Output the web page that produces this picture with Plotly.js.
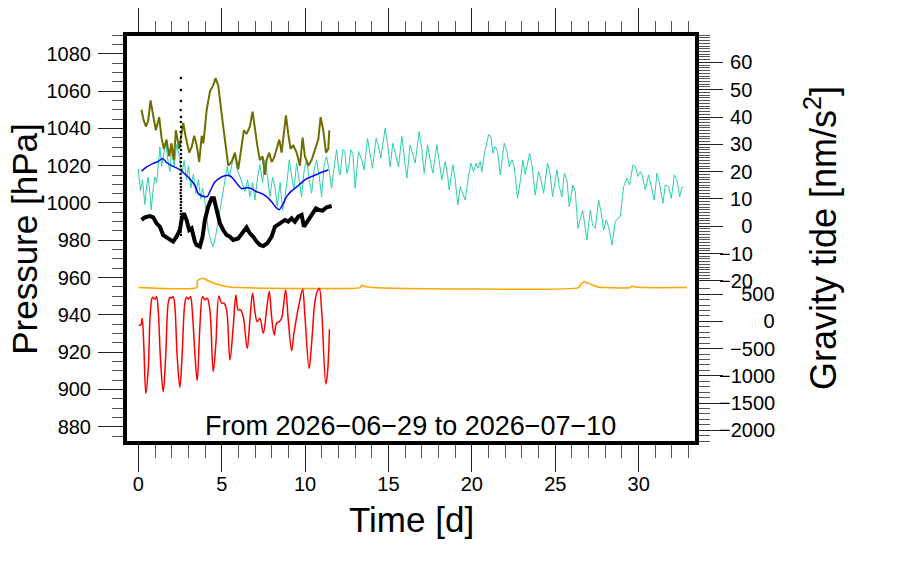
<!DOCTYPE html>
<html>
<head>
<meta charset="utf-8">
<script src="https://cdn.plot.ly/plotly-3.0.1.min.js"></script>
<style>
  html, body { margin: 0; padding: 0; background: #fff; }
  #chart { width: 900px; height: 568px; }
</style>
</head>
<body>
<div id="chart"></div>
<script>
// time in days since 2026-06-29

// gravity tide residual, upper right scale [nm/s^2]
const tideDays = [-0.01, 0.13, 0.25, 0.39, 0.5, 0.59, 0.7, 0.77, 0.9, 0.99, 1.1, 1.2, 1.29, 1.4, 1.5, 1.65, 1.75, 1.89, 2.0, 2.15,
  2.3, 2.45, 2.6, 2.75, 2.89, 3.0, 3.15, 3.3, 3.45, 3.6, 3.75, 3.85, 3.99, 4.19, 4.33, 4.49, 4.63, 4.73, 4.89, 5.05,
  5.19, 5.33, 5.45, 5.65, 5.79, 5.95, 6.09, 6.25, 6.39, 6.55, 6.69, 6.85, 6.99, 7.15, 7.29, 7.45, 7.59, 7.75, 7.89, 8.05,
  8.2, 8.33, 8.5, 8.65, 8.8, 8.93, 9.05, 9.2, 9.33, 9.49, 9.65, 9.79, 9.95, 10.09, 10.25, 10.39, 10.55, 10.69, 10.85, 10.99,
  11.15, 11.29, 11.45, 11.59, 11.75, 11.89, 12.05, 12.1, 12.26, 12.38, 12.5, 12.6, 12.74, 12.86, 13.0, 13.2, 13.4, 13.54, 13.74, 13.9,
  14.04, 14.26, 14.4, 14.54, 14.8, 14.94, 15.1, 15.26, 15.4, 15.6, 15.8, 15.94, 16.1, 16.3, 16.46, 16.6, 16.84, 17.0, 17.14, 17.34,
  17.5, 17.66, 17.9, 18.04, 18.2, 18.4, 18.54, 18.64, 18.86, 19.0, 19.16, 19.3, 19.44, 19.6, 19.8, 19.94, 20.1, 20.26, 20.36, 20.5,
  20.6, 20.74, 21.0, 21.14, 21.26, 21.4, 21.54, 21.7, 21.94, 22.1, 22.24, 22.4, 22.54, 22.74, 22.9, 23.06, 23.2, 23.46, 23.6, 23.8,
  24.0, 24.1, 24.3, 24.54, 24.7, 24.84, 25.1, 25.24, 25.4, 25.54, 25.7, 25.84, 26.06, 26.2, 26.36, 26.5, 26.64, 26.76, 26.9, 27.1,
  27.24, 27.4, 27.6, 27.76, 27.9, 28.06, 28.2, 28.4, 28.6, 28.76, 28.9, 29.1, 29.3, 29.46, 29.66, 29.8, 29.96, 30.1, 30.2, 30.4,
  30.6, 30.74, 30.94, 31.1, 31.24, 31.46, 31.6, 31.8, 31.96, 32.14, 32.3, 32.46, 32.6, 32.7];
const tideValues = [20.9, 13, 17, 8, 15, 18, 12, 6, 14, 18, 16, 24, 29, 22, 26, 31, 25, 20, 28, 22,
  30, 26, 19, 24, 17, 22, 14, 19, 12, 17, 10, 14, 9, -1.4, -5.1, -7.5, -3.8, -0.2, 4.7, 10.8,
  15.7, 21.8, 18, 23.7, 25.5, 20, 18.2, 15, 12.7, 17, 10.8, 16, 9.6, 18, 22.5, 16, 24.3, 18, 10.8, 18,
  14, 7.2, 16, 5.9, 11, 17, 24.3, 18, 13.3, 23.1, 17, 10.8, 21, 24.3, 17, 12.1, 21, 24.3, 18, 10.8,
  23, 25.5, 20, 13.9, 22, 28, 19.4, 18.8, 28.0, 27.4, 19.4, 21.2, 28.0, 26.7, 13.9, 27.4, 24.3, 20.6, 32.2, 26.7,
  21.2, 32.2, 29.2, 24.9, 35.9, 30.4, 21.8, 30.4, 26.7, 21.8, 32.9, 26.7, 17.6, 29.8, 26.7, 23.1, 34.7, 28.0, 19.4, 29.8,
  24.3, 19.4, 29.8, 24.3, 17.0, 23.7, 18.8, 13.3, 22.5, 17.0, 7.8, 14.5, 12.1, 9.6, 18.2, 23.1, 20.0, 23.1, 21.2, 23.7,
  20.0, 26.1, 33.5, 32.9, 26.7, 29.2, 27.4, 18.8, 30.4, 27.4, 21.8, 24.3, 21.8, 10.2, 16.3, 24.3, 18.8, 26.7, 22.5, 11.4,
  20.0, 18.2, 12.1, 23.1, 18.8, 10.8, 20.6, 14.5, 10.8, 19.4, 17.0, 7.2, 15.1, 12.7, -0.8, 2.3, 5.9, 1.0, -5.1, 5.9,
  0.4, -0.8, 9.6, 4.7, -1.4, 2.3, -0.2, -6.9, 1.7, 2.9, 3.5, 14.5, 17.6, 15.1, 22.5, 21.8, 18.2, 20.0, 18.8, 13.3,
  18.8, 15.1, 9.6, 19.4, 16.3, 8.4, 15.1, 14.5, 10.2, 18.8, 17.0, 10.8, 14.3, 14.3];

// pressure series [hPa]
const oliveDays = [0.19, 0.3, 0.45, 0.59, 0.73, 0.85, 0.95, 1.05, 1.25, 1.39, 1.53, 1.69, 1.85, 1.99, 2.13, 2.25, 2.45, 2.69, 2.85, 3.05,
  3.2, 3.35, 3.5, 3.65, 3.8, 3.9, 4.1, 4.3, 4.49, 4.63, 4.79, 4.89, 5.09, 5.25, 5.39, 5.59, 5.79, 5.99, 6.13, 6.33,
  6.49, 6.69, 6.85, 6.99, 7.13, 7.29, 7.45, 7.59, 7.69, 7.85, 7.99, 8.13, 8.29, 8.45, 8.59, 8.73, 8.85, 8.99, 9.13, 9.29,
  9.49, 9.69, 9.85, 9.99, 10.19, 10.39, 10.59, 10.79, 10.93, 11.09, 11.25, 11.39, 11.45];
const olivePressure = [1050, 1045, 1041, 1044, 1055, 1049, 1045, 1039, 1046, 1035, 1029, 1034, 1025, 1032, 1023, 1039, 1029, 1043, 1035, 1027,
  1030, 1036, 1031, 1022, 1036, 1032, 1050, 1060, 1063, 1067, 1063, 1055, 1041, 1030, 1020, 1022, 1027, 1018, 1027, 1039,
  1037, 1041, 1049, 1039, 1031, 1023, 1025, 1015, 1023, 1027, 1022, 1024, 1029, 1034, 1027, 1039, 1047, 1037, 1029, 1031,
  1027, 1020, 1035, 1025, 1020, 1023, 1029, 1034, 1046, 1039, 1027, 1029, 1039];

const blueDays = [0.19, 0.49, 0.89, 1.19, 1.45, 1.69, 1.99, 2.29, 2.59, 2.79, 3.09, 3.39, 3.59, 3.79, 4.13, 4.33, 4.59, 4.89, 5.19, 5.45,
  5.69, 5.99, 6.19, 6.49, 6.79, 7.09, 7.39, 7.69, 7.99, 8.25, 8.45, 8.65, 8.89, 9.19, 9.49, 9.79, 10.09, 10.39, 10.69, 10.99, 11.39];
const bluePressure = [1017.1, 1019.2, 1021.2, 1022.3, 1023.9, 1021.7, 1020.0, 1018.8, 1017.2, 1015.5, 1012.9, 1009.5, 1005.1, 1003.9, 1003.4, 1006.9, 1011.3, 1013.5, 1014.6, 1014.7,
  1013.0, 1009.5, 1007.7, 1008.1, 1007.7, 1006.0, 1005.1, 1003.4, 1000.7, 997.6, 996.4, 999.0, 1003.4, 1006.5, 1008.6, 1010.9, 1013.0, 1014.2, 1015.3, 1016.5, 1017.7];

const blackDays = [0.19, 0.39, 0.69, 0.89, 1.09, 1.29, 1.49, 1.69, 1.89, 2.09, 2.29, 2.49, 2.59, 2.73, 2.89, 3.05, 3.19, 3.29, 3.39, 3.49,
  3.69, 3.85, 3.99, 4.19, 4.39, 4.53, 4.69, 4.89, 5.09, 5.29, 5.49, 5.69, 5.99, 6.29, 6.49, 6.69, 6.89, 7.09, 7.29, 7.49,
  7.73, 7.99, 8.19, 8.49, 8.79, 8.99, 9.19, 9.39, 9.59, 9.79, 9.93, 10.13, 10.39, 10.65, 10.85, 11.05, 11.29, 11.59];
const blackPressure = [990.9, 992.3, 993.0, 992.3, 989.1, 987.3, 982.8, 981.6, 981.0, 979.3, 981.9, 985.5, 990.9, 994.5, 990.9, 985.5, 986.4, 981.9, 979.3, 977.5,
  976.6, 981.9, 990.9, 998.0, 1002.5, 1002.5, 996.2, 989.1, 985.5, 982.8, 981.9, 980.2, 981.0, 984.6, 986.9, 983.7, 981.9, 979.3, 977.5, 976.9,
  978.4, 981.9, 987.3, 989.1, 990.9, 990.0, 991.8, 990.0, 992.7, 993.6, 987.3, 990.0, 993.6, 997.1, 996.2, 995.9, 997.7, 998.4];

// single readings around day 2.5
const dotDays = [2.55, 2.55, 2.56, 2.54, 2.56, 2.55, 2.57, 2.54, 2.56, 2.55, 2.53, 2.56, 2.55, 2.57, 2.54, 2.55, 2.56, 2.53, 2.55, 2.57,
  2.54, 2.56, 2.55, 2.53, 2.56, 2.55, 2.57, 2.54, 2.55, 2.56, 2.54, 2.55, 2.57, 2.53, 2.56, 2.55, 2.54, 2.56];
const dotPressure = [1067.0, 1060.6, 1054.7, 1049.9, 1046.1, 1043.4, 1040.7, 1038.1, 1035.4, 1032.7, 1030.6, 1028.4, 1026.3, 1024.1, 1022.0, 1019.8, 1017.7, 1015.5, 1013.4, 1011.8,
  1010.2, 1008.6, 1007.0, 1005.4, 1003.8, 1002.1, 1000.5, 998.9, 997.3, 995.7, 994.1, 992.5, 990.9, 989.3, 987.7, 986.1, 984.5, 982.8];

// lower right scale [nm/s^2]
const orangeDays = [0.0, 3.5, 3.55, 3.85, 4.1, 4.4, 4.8, 5.2, 5.6, 6.0, 13.3, 13.4, 13.6, 14.0, 26.4, 26.55, 26.75, 27.0, 27.3, 27.6,
  28.0, 29.5, 29.6, 29.8, 30.2, 32.9];
const orangeValues = [622, 622, 750, 795, 760, 720, 680, 645, 628, 622, 622, 665, 640, 625, 622, 690, 730, 700, 660, 630,
  622, 622, 650, 632, 622, 622];

const redDays = [0.03, 0.15, 0.23, 0.33, 0.45, 0.59, 0.73, 0.85, 0.99, 1.09, 1.19, 1.33, 1.49, 1.63, 1.79, 1.89, 1.99, 2.09, 2.19, 2.33,
  2.49, 2.63, 2.79, 2.89, 3.01, 3.13, 3.23, 3.39, 3.53, 3.69, 3.85, 3.99, 4.13, 4.29, 4.49, 4.65, 4.83, 4.99, 5.13, 5.29,
  5.49, 5.69, 5.85, 5.99, 6.13, 6.29, 6.53, 6.69, 6.85, 6.99, 7.13, 7.29, 7.49, 7.69, 7.85, 7.99, 8.15, 8.29, 8.45, 8.59,
  8.83, 8.99, 9.19, 9.33, 9.53, 9.69, 9.85, 9.99, 10.24, 10.39, 10.59, 10.73, 10.85, 10.99, 11.24, 11.34, 11.46];
const redValues = [-65, -65, 57, -464, -1324, -894, 211, 444, 407, 456, 211, -710, -1293, -710, 334, 444, 426, 456, 272, -649,
  -1214, -587, 334, 444, 407, 456, 211, -587, -1091, -96, 456, 395, 426, 211, -925, -403, 469, 334, 334, 211,
  -710, -96, 487, 211, 211, 88, -495, 27, 518, 180, -4, 57, -219, 211, 549, 88, -250, -35, -4, 57,
  579, 27, -538, -219, 149, 395, 591, 88, -864, -403, 364, 549, 610, 211, -1152, -956, -145];

// axis ticks and labels
const timeTicks = [0, 5, 10, 15, 20, 25, 30];
const pressureTicks = [880, 900, 920, 940, 960, 980, 1000, 1020, 1040, 1060, 1080];
const tideTicks = [-20, -10, 0, 10, 20, 30, 40, 50, 60];
const tideLabels = ['\u221220', '\u221210', '\u2007\u20070', '\u200710', '\u200720', '\u200730', '\u200740', '\u200750', '\u200760'];
const gravTicks = [-2000, -1500, -1000, -500, 0, 500];
const gravLabels = ['\u22122000', '\u22121500', '\u22121000', '\u2007\u2212500', '\u2007\u2007\u2007\u20070', '\u2007\u2007500'];

function steps(a, b, s) {
  const out = [];
  for (let v = a; v <= b + 1e-9; v += s) out.push(+v.toFixed(6));
  return out;
}

const FONT = 'Liberation Sans, Arial, sans-serif';
const tickFont = { family: FONT, size: 20, color: '#000' };
const minorStyle = { ticks: 'outside', tickcolor: '#555', tickwidth: 1, showgrid: false };

const traces = [
  { x: tideDays, y: tideValues, yaxis: 'y', type: 'scatter', mode: 'lines',
    line: { color: 'rgb(40,208,172)', width: 1 } },
  { x: oliveDays, y: olivePressure, yaxis: 'y2', type: 'scatter', mode: 'lines',
    line: { color: '#6e6e00', width: 2 } },
  { x: blueDays, y: bluePressure, yaxis: 'y2', type: 'scatter', mode: 'lines',
    line: { color: '#0000ff', width: 1.5, shape: 'spline', smoothing: 0.6 } },
  { x: blackDays, y: blackPressure, yaxis: 'y2', type: 'scatter', mode: 'lines',
    line: { color: '#000', width: 4 } },
  { x: dotDays, y: dotPressure, yaxis: 'y2', type: 'scatter', mode: 'markers',
    marker: { color: '#000', size: 2.5 } },
  { x: orangeDays, y: orangeValues, yaxis: 'y3', type: 'scatter', mode: 'lines',
    line: { color: '#ffa500', width: 1.5, shape: 'spline', smoothing: 0.5 } },
  { x: redDays, y: redValues, yaxis: 'y3', type: 'scatter', mode: 'lines',
    line: { color: '#ff0000', width: 1.5, shape: 'spline', smoothing: 1.0 } },
  // carries the top time axis
  { x: [], y: [], xaxis: 'x2', yaxis: 'y', type: 'scatter', mode: 'lines' }
];

const layout = {
  width: 900, height: 568,
  margin: { l: 125, r: 203, t: 34, b: 125 },
  paper_bgcolor: '#fff', plot_bgcolor: '#fff',
  showlegend: false,
  font: tickFont,
  xaxis: {
    range: [-0.80, 33.50], showgrid: false, zeroline: false, showline: false,
    tickmode: 'array', tickvals: timeTicks, ticktext: timeTicks.map(String),
    ticks: 'outside', ticklen: 28, tickwidth: 1, tickcolor: '#222', tickfont: tickFont,
    ticklabelstandoff: -5,
    minor: Object.assign({ tickmode: 'array', tickvals: steps(0, 33, 1), ticklen: 14 }, minorStyle)
  },
  xaxis2: {
    range: [-0.80, 33.50], overlaying: 'x', side: 'top', anchor: 'y',
    showgrid: false, zeroline: false, showline: false, showticklabels: false,
    tickmode: 'array', tickvals: timeTicks,
    ticks: 'outside', ticklen: 25, tickwidth: 1, tickcolor: '#222',
    minor: Object.assign({ tickmode: 'array', tickvals: steps(0, 33, 1), ticklen: 12 }, minorStyle)
  },
  yaxis: {
    range: [-79.4, 70.4], side: 'right', showgrid: false, zeroline: false, showline: false,
    tickmode: 'array', tickvals: tideTicks, ticktext: tideLabels,
    ticks: 'outside', ticklen: 25, tickwidth: 1, tickcolor: '#222', tickfont: tickFont,
    ticklabelstandoff: -8,
    minor: Object.assign({ tickmode: 'array', tickvals: steps(-20, 70, 1), ticklen: 12 }, minorStyle)
  },
  yaxis2: {
    range: [871.3, 1090.6], side: 'left', overlaying: 'y', showgrid: false, zeroline: false, showline: false,
    tickmode: 'array', tickvals: pressureTicks, ticktext: pressureTicks.map(String),
    ticks: 'outside', ticklen: 26, tickwidth: 1, tickcolor: '#222', tickfont: tickFont,
    ticklabelstandoff: 3,
    minor: Object.assign({ tickmode: 'array', tickvals: steps(875, 1090, 5), ticklen: 12 }, minorStyle)
  },
  yaxis3: {
    range: [-2235, 5283], side: 'right', overlaying: 'y', showgrid: false, zeroline: false, showline: false,
    tickmode: 'array', tickvals: gravTicks, ticktext: gravLabels,
    ticks: 'outside', ticklen: 25, tickwidth: 1, tickcolor: '#222', tickfont: tickFont,
    ticklabelstandoff: -8,
    minor: Object.assign({ tickmode: 'array', tickvals: steps(-2200, 600, 100), ticklen: 12 }, minorStyle)
  },
  shapes: [
    { type: 'rect', xref: 'paper', yref: 'paper', x0: 0, x1: 1, y0: 0, y1: 1,
      line: { color: '#000', width: 4 }, layer: 'above' }
  ],
  annotations: [
    { text: 'Pressure [hPa]', xref: 'paper', yref: 'paper', x: -0.176, y: 0.50,
      xanchor: 'center', yanchor: 'middle', textangle: -90, showarrow: false,
      font: { family: FONT, size: 35, color: '#000' } },
    { text: 'Gravity tide [nm/s<sup>2</sup>]', xref: 'paper', yref: 'paper', x: 1.216, y: 0.50,
      xanchor: 'center', yanchor: 'middle', textangle: -90, showarrow: false,
      font: { family: FONT, size: 36, color: '#000' } },
    { text: 'Time [d]', xref: 'paper', yref: 'paper', x: 0.5, y: -0.186,
      xanchor: 'center', yanchor: 'middle', showarrow: false,
      font: { family: FONT, size: 35, color: '#000' } },
    { text: 'From 2026\u221206\u221229 to 2026\u221207\u221210', xref: 'paper', yref: 'paper', x: 0.499, y: 0.042,
      xanchor: 'center', yanchor: 'middle', showarrow: false,
      font: { family: FONT, size: 27, color: '#000' } }
  ]
};

Plotly.newPlot('chart', traces, layout, { staticPlot: true, displayModeBar: false });
</script>
</body>
</html>
